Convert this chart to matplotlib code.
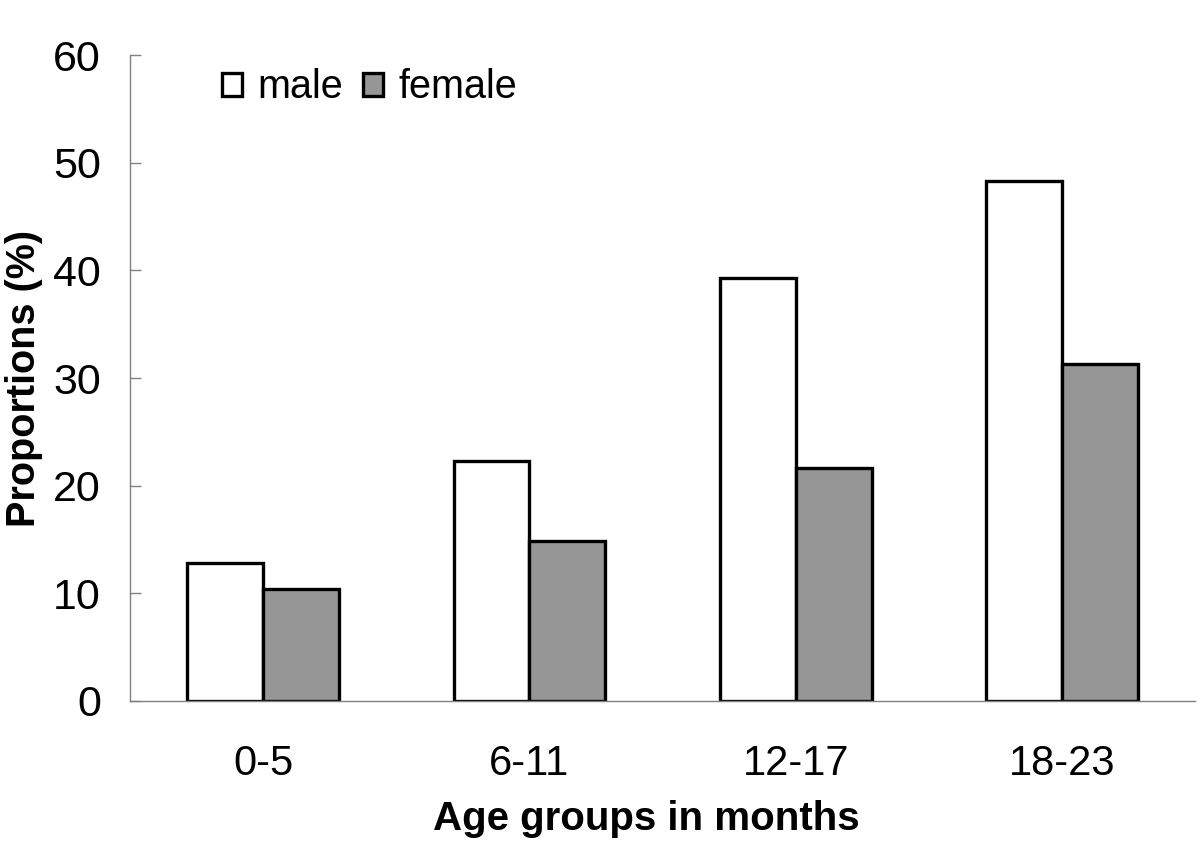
import matplotlib
matplotlib.use("Agg")
import matplotlib.pyplot as plt
import numpy as np

categories = ["0-5", "6-11", "12-17", "18-23"]
male = [12.8, 22.3, 39.3, 48.3]
female = [10.4, 14.9, 21.6, 31.3]
yticks = [0, 10, 20, 30, 40, 50, 60]

plt.rcParams['font.family'] = ['Liberation Sans', 'DejaVu Sans']

fig = plt.figure(figsize=(12, 8.47), dpi=100)
ax = fig.add_axes([0.1083, 0.1724, 0.8877, 0.7626])

x = np.arange(len(categories))
w = 0.285
ax.bar(x - w/2, male, width=w, color="white", edgecolor="black", linewidth=2.4, label="male")
ax.bar(x + w/2, female, width=w, color="#969696", edgecolor="black", linewidth=2.4, label="female")

ax.set_xlim(-0.5, 3.5)
ax.set_ylim(0, 60)
ax.set_yticks(yticks)
ax.set_yticklabels([str(t) for t in yticks], fontsize=31)
ax.set_xticks(x)
ax.set_xticklabels(categories, fontsize=30)
ax.tick_params(axis='y', direction='in', length=8, width=1, color='#808080', pad=21)
ax.tick_params(axis='x', length=0, pad=31)

for s in ['top', 'right']:
    ax.spines[s].set_visible(False)
for s in ['left', 'bottom']:
    ax.spines[s].set_color('#808080')
    ax.spines[s].set_linewidth(1)

ax.set_ylabel("Proportions (%)", fontsize=28.5, fontweight='bold', labelpad=7)
ax.set_xlabel("Age groups in months", fontsize=29, fontweight='bold')
ax.xaxis.set_label_coords(0.4845, -0.153)
ax.xaxis.label.set_va('top')

leg = ax.legend(loc='center left', bbox_to_anchor=(0.0864, 0.950), ncol=2, frameon=False,
                fontsize=28.5, handlelength=0.5, handleheight=0.5, handletextpad=0.4,
                columnspacing=0.5, borderpad=0.0, borderaxespad=0.0)

fig.savefig("out.png", dpi=100)
